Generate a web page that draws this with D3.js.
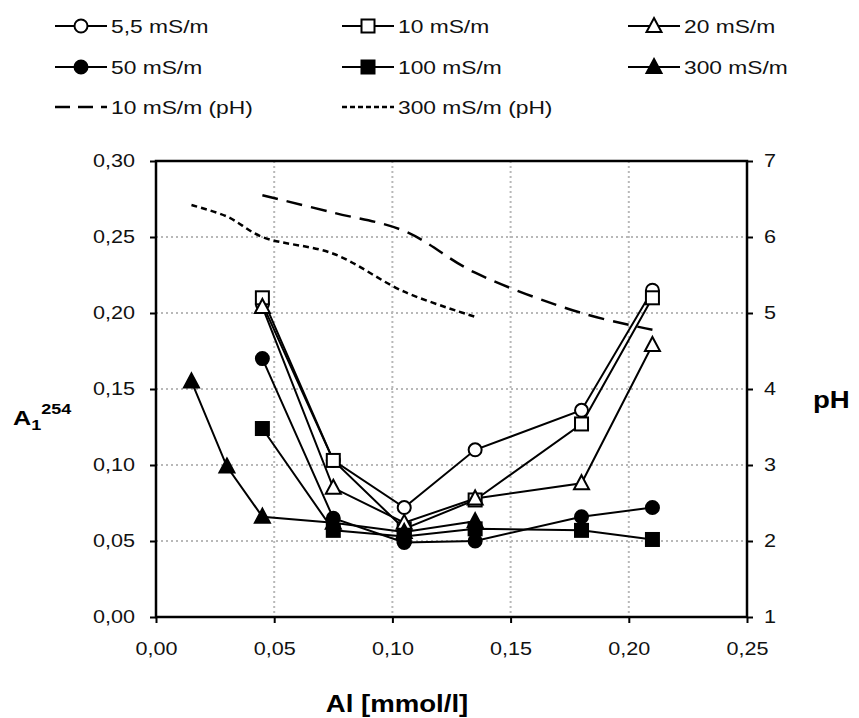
<!DOCTYPE html>
<html><head><meta charset="utf-8">
<script src="https://cdn.jsdelivr.net/npm/d3@7"></script>
<style>body{margin:0;background:#fff}svg{display:block}text{font-family:"Liberation Sans",Arial,sans-serif}</style>
</head><body><svg id="c" width="859" height="718"></svg>
<script>
// ---- data ----
const xMain = [0.045, 0.075, 0.105, 0.135, 0.18, 0.21];
const x300 = [0.015, 0.03, 0.045, 0.075, 0.105, 0.135];
const a55 = [0.206, 0.103, 0.072, 0.110, 0.136, 0.215];
const a10 = [0.210, 0.103, 0.058, 0.077, 0.127, 0.210];
const a20 = [0.204, 0.085, 0.062, 0.078, 0.088, 0.179];
const a50 = [0.170, 0.065, 0.049, 0.050, 0.066, 0.072];
const a100 = [0.124, 0.057, 0.053, 0.058, 0.057, 0.051];
const a300 = [0.155, 0.099, 0.066, 0.062, 0.056, 0.063];
const pH10 = [6.55, 6.32, 6.08, 5.53, 5.0, 4.78];
const pH300 = [6.42, 6.27, 6.0, 5.78, 5.28, 4.95];
const xTicks = [0, 0.05, 0.10, 0.15, 0.20, 0.25];
const yTicks = [0, 0.05, 0.10, 0.15, 0.20, 0.25, 0.30];
const y2Ticks = [1, 2, 3, 4, 5, 6, 7];
const legendLabels = ["5,5 mS/m","10 mS/m","20 mS/m","50 mS/m","100 mS/m","300 mS/m","10 mS/m (pH)","300 mS/m (pH)"];

const SX = 1.2; // horizontal text stretch of the original picture
const svg = d3.select("#c");
const L = 156, R = 747, T = 161, B = 617;
const x = d3.scaleLinear().domain([0, 0.25]).range([L, R]);
const y = d3.scaleLinear().domain([0, 0.30]).range([B, T]);
const y2 = d3.scaleLinear().domain([1, 7]).range([B, T]);
const fmt = d => d.toFixed(2).replace(".", ",");

// grid
const g = svg.append("g");
g.selectAll(".vg").data(xTicks.slice(1, -1)).join("line")
  .attr("x1", d => x(d)).attr("x2", d => x(d)).attr("y1", T).attr("y2", B)
  .attr("stroke", "#b8b8b8").attr("stroke-width", 2).attr("stroke-dasharray", "2,3");
g.selectAll(".hg").data(yTicks.slice(1, -1)).join("line")
  .attr("x1", L).attr("x2", R).attr("y1", d => y(d)).attr("y2", d => y(d))
  .attr("stroke", "#b8b8b8").attr("stroke-width", 2).attr("stroke-dasharray", "2,3");

// axes
function styleAxis(sel) {
  sel.select(".domain").remove();
  sel.selectAll("line").attr("stroke", "#000").attr("stroke-width", 2);
  sel.selectAll("text").attr("font-size", 18).attr("fill", "#111").each(function () {
    const t = d3.select(this);
    const xv = +t.attr("x") || 0;
    t.attr("x", 0).attr("transform", `translate(${xv},0) scale(${SX},1)`);
  });
}
svg.append("g").attr("transform", `translate(${L},0)`)
  .call(d3.axisLeft(y).tickValues(yTicks).tickFormat(fmt).tickSize(6).tickPadding(15)).call(styleAxis);
svg.append("g").attr("transform", `translate(0,${B})`)
  .call(d3.axisBottom(x).tickValues(xTicks).tickFormat(fmt).tickSize(6).tickPadding(19)).call(styleAxis);
svg.append("g").attr("transform", `translate(${R},0)`)
  .call(d3.axisRight(y2).tickValues(y2Ticks).tickFormat(d3.format("d")).tickSize(6).tickPadding(11)).call(styleAxis);
// frame
svg.append("rect").attr("x", L).attr("y", T).attr("width", R - L).attr("height", B - T)
  .attr("fill", "none").attr("stroke", "#000").attr("stroke-width", 2.5);

// symbols
function marker(sel, type, cx, cy) {
  const fill = type.filled ? "#000" : "#fff";
  if (type.shape === "circle") {
    sel.append("circle").attr("cx", cx).attr("cy", cy).attr("r", 6.5)
      .attr("fill", fill).attr("stroke", "#000").attr("stroke-width", 2);
  } else if (type.shape === "square") {
    sel.append("rect").attr("x", cx - 6.5).attr("y", cy - 6.5).attr("width", 13).attr("height", 13)
      .attr("fill", fill).attr("stroke", "#000").attr("stroke-width", 2);
  } else {
    sel.append("path").attr("d", `M${cx},${cy - 8}L${cx + 7.5},${cy + 6}L${cx - 7.5},${cy + 6}Z`)
      .attr("fill", fill).attr("stroke", "#000").attr("stroke-width", 2);
  }
}

const series = [
  {xs: xMain, ys: a55, shape: "circle", filled: false},
  {xs: xMain, ys: a10, shape: "square", filled: false},
  {xs: xMain, ys: a20, shape: "triangle", filled: false},
  {xs: xMain, ys: a50, shape: "circle", filled: true},
  {xs: xMain, ys: a100, shape: "square", filled: true},
  {xs: x300, ys: a300, shape: "triangle", filled: true}
];
const line = d3.line().x(d => x(d[0])).y(d => y(d[1]));
const plot = svg.append("g");
series.forEach(s => {
  const pts = s.xs.map((v, i) => [v, s.ys[i]]);
  plot.append("path").attr("d", line(pts)).attr("fill", "none").attr("stroke", "#000").attr("stroke-width", 2);
});
series.forEach(s => {
  const mg = plot.append("g");
  s.xs.forEach((v, i) => marker(mg, s, x(v), y(s.ys[i])));
});

// pH lines
const line2 = d3.line().x(d => x(d[0])).y(d => y2(d[1])).curve(d3.curveCatmullRom.alpha(0.5));
plot.append("path").attr("d", line2(xMain.map((v, i) => [v, pH10[i]])))
  .attr("fill", "none").attr("stroke", "#000").attr("stroke-width", 2.5).attr("stroke-dasharray", "16,9");
plot.append("path").attr("d", line2(x300.map((v, i) => [v, pH300[i]])))
  .attr("fill", "none").attr("stroke", "#000").attr("stroke-width", 2.5).attr("stroke-dasharray", "6,4");

// axis titles
const at = svg.append("text").attr("transform", `translate(13,425) scale(${SX},1)`)
  .attr("font-size", 21).attr("font-weight", "bold");
at.append("tspan").text("A");
at.append("tspan").text("1").attr("font-size", 15).attr("dy", 5);
at.append("tspan").text("254").attr("font-size", 15).attr("dy", -16);
svg.append("text").attr("transform", `translate(813,408) scale(${SX},1)`)
  .attr("font-size", 23).attr("font-weight", "bold").text("pH");
svg.append("text").attr("transform", `translate(397,712) scale(${SX},1)`).attr("text-anchor", "middle")
  .attr("font-size", 23).attr("font-weight", "bold").text("Al [mmol/l]");

// legend
const legTypes = [
  {shape: "circle", filled: false}, {shape: "square", filled: false}, {shape: "triangle", filled: false},
  {shape: "circle", filled: true}, {shape: "square", filled: true}, {shape: "triangle", filled: true},
  {dash: "15,8"}, {dash: "5,3"}
];
const colX = [55, 342, 628];
const rowY = [26, 67, 107];
legendLabels.forEach((lab, i) => {
  const cx = colX[i % 3], cy = rowY[Math.floor(i / 3)];
  const lg = svg.append("g");
  const t = legTypes[i];
  if (t.dash) {
    lg.append("line").attr("x1", cx).attr("x2", cx + 52).attr("y1", cy).attr("y2", cy)
      .attr("stroke", "#000").attr("stroke-width", 2.5).attr("stroke-dasharray", t.dash);
  } else {
    lg.append("line").attr("x1", cx).attr("x2", cx + 52).attr("y1", cy).attr("y2", cy)
      .attr("stroke", "#000").attr("stroke-width", 2);
    marker(lg, t, cx + 26, cy);
  }
  lg.append("text").attr("transform", `translate(${cx + 56},${cy + 7}) scale(${SX},1)`)
    .attr("font-size", 19).attr("fill", "#111").text(lab);
});
</script></body></html>
